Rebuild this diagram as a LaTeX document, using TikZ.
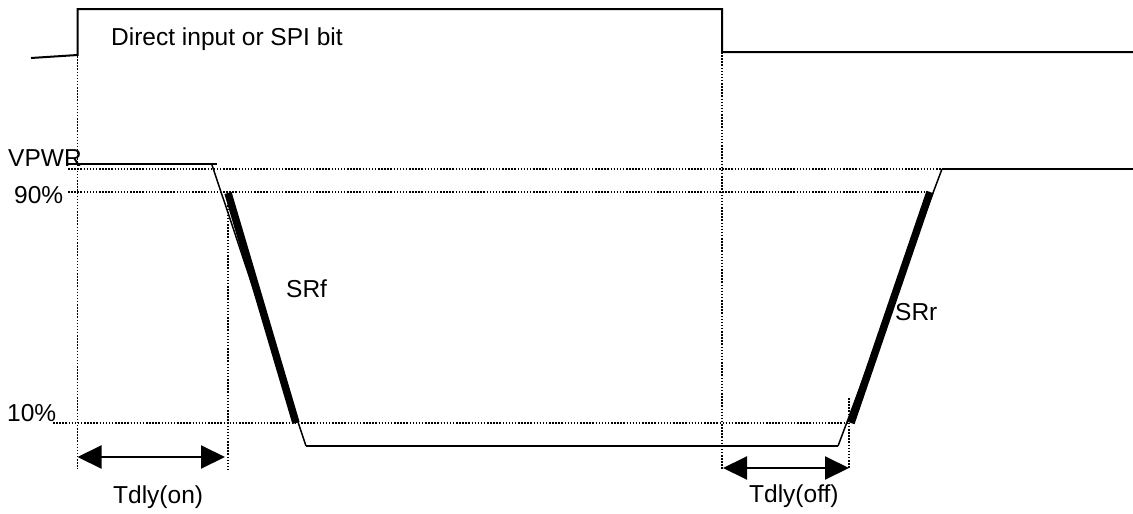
\documentclass[tikz,border=0pt]{standalone}
\usepackage{fontspec}
\setmainfont{Liberation Sans}
\usetikzlibrary{arrows.meta}
\begin{document}
\begin{tikzpicture}[x=1pt,y=-1pt,
  signal/.style={line width=2pt, line join=miter},
  thin slope/.style={line width=1.5pt},
  thick slope/.style={line width=7.5pt},
  guide/.style={line width=1.6pt, dash pattern=on 1.5pt off 1.6pt},
  span/.style={line width=2pt, {Triangle[length=24pt,width=23pt]}-{Triangle[length=24pt,width=23pt]}},
  lbl/.style={anchor=base west, inner sep=0pt, font=\fontsize{24.5}{29}\selectfont}]
\useasboundingbox (0,0) rectangle (1133,514);
% guide lines
\draw[guide] (68,169) -- (942,169);
\draw[guide] (68,192) -- (928,192);
\draw[guide] (53,423) -- (849,423);
\draw[guide] (77.5,56) -- (77.5,469);
\draw[guide] (228,193) -- (228,469);
\draw[guide] (722,52) -- (722,469);
\draw[guide] (849,398) -- (849,469);
% input signal
\coordinate (in0) at (31,58);
\coordinate (in1) at (77.5,55);
\draw[signal] (in0) -- (in1) |- (722,9) |- (1133,52);
% output signal
\coordinate (o0) at (68,164);
\coordinate (o1) at (217,164);
\coordinate (f0) at (212,165);
\coordinate (f1) at (306,446);
\coordinate (r0) at (838,446);
\coordinate (r1) at (942,169);
\draw[signal] (o0) -- (o1);
\draw[thin slope] (f0) -- (f1);
\draw[signal] (f1) -- (r0);
\draw[thin slope] (r0) -- (r1);
\draw[signal] (r1) -- (1133,169);
\draw[thick slope] (228,193) -- (296,423);
\draw[thick slope] (851,423) -- (930,192);
% delay arrows
\coordinate (a0) at (77.5,457);
\coordinate (a1) at (225,457);
\coordinate (b0) at (723,468);
\coordinate (b1) at (849,468);
\draw[span] (a0) -- (a1);
\draw[span] (b0) -- (b1);
% labels
\node[lbl] (tin) at (111,45) {Direct input or SPI bit};
\node[lbl] (tvpwr) at (8,166) {VPWR};
\node[lbl] (t90) at (14,203) {90\%};
\node[lbl] (t10) at (7,421) {10\%};
\node[lbl] (tsrf) at (286,297) {SRf};
\node[lbl] (tsrr) at (895,320) {SRr};
\node[lbl] (ton) at (113,503) {Tdly(on)};
\node[lbl] (toff) at (749,502) {Tdly(off)};
\end{tikzpicture}
\end{document}
